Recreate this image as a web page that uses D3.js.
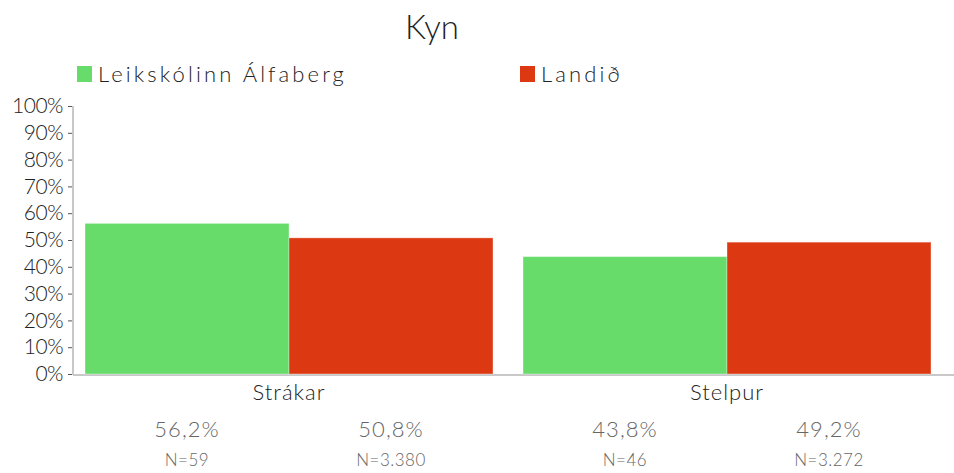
<!DOCTYPE html>
<html>
<head>
<meta charset="utf-8">
<script src="https://cdn.jsdelivr.net/npm/d3@7"></script>
<style>
  body { margin: 0; background: #fff; }
  svg { font-family: Lato, "Open Sans", sans-serif; font-weight: 300; }
</style>
</head>
<body>
<div id="chart"></div>
<script>
(function () {
  'use strict';

  // data
  var categories = ['Strákar', 'Stelpur'];
  var seriesNames = ['Leikskólinn Álfaberg', 'Landið'];
  var schoolValues = [56.2, 43.8];
  var nationValues = [50.8, 49.2];
  var schoolN = ['59', '46'];
  var nationN = ['3.380', '3.272'];
  var yTicks = [0, 10, 20, 30, 40, 50, 60, 70, 80, 90, 100];

  const WIDTH = 954;
  const HEIGHT = 473;
  const COLORS = ['#67dc6a', '#dc3913'];
  const margin = { top: 106, right: 10, bottom: 98, left: 73 };

  var plotH = HEIGHT - margin.top - margin.bottom;

  var rows = categories.map(function (c, i) {
    return {
      cat: c,
      values: [
        { key: seriesNames[0], v: schoolValues[i], n: schoolN[i] },
        { key: seriesNames[1], v: nationValues[i], n: nationN[i] }
      ]
    };
  });

  var svg = d3.select('#chart').append('svg')
    .attr('width', WIDTH)
    .attr('height', HEIGHT);

  svg.append('text')
    .attr('x', 432)
    .attr('y', 39)
    .attr('text-anchor', 'middle')
    .style('font-size', '33px')
    .style('fill', '#222')
    .text('Kyn');

  // legend
  var legendX = [77, 520];
  seriesNames.forEach(function (name, i) {
    svg.append('rect')
      .attr('x', legendX[i])
      .attr('y', 66)
      .attr('width', 15)
      .attr('height', 16)
      .style('fill', COLORS[i]);
    svg.append('text')
      .attr('x', legendX[i] + 21)
      .attr('y', 82)
      .style('font-size', '22px')
      .style('letter-spacing', '3.1px')
      .style('fill', '#222')
      .text(name);
  });

  var g = svg.append('g')
    .attr('transform', 'translate(' + margin.left + ',' + margin.top + ')');

  var x0 = d3.scaleBand()
    .domain(categories)
    .range([12, 858])
    .paddingInner(0.0685)
    .paddingOuter(0);

  var x1 = d3.scaleBand()
    .domain(seriesNames)
    .range([0, x0.bandwidth()]);

  var y = d3.scaleLinear()
    .domain([0, 100])
    .range([plotH - 1, 0]);

  // y axis
  var yAxis = g.append('g')
    .call(d3.axisLeft(y).tickValues(yTicks).tickSize(5)
      .tickFormat(function (d) { return d + '%'; }));
  yAxis.select('.domain').remove();
  yAxis.selectAll('.tick line').style('stroke', '#555');
  yAxis.selectAll('.tick text')
    .attr('x', -10)
    .style('font-size', '21px')
    .style('font-family', 'Lato, sans-serif')
    .style('font-weight', 300)
    .style('letter-spacing', '-0.5px')
    .style('fill', '#222');

  g.append('line')
    .attr('x1', 0).attr('x2', 0)
    .attr('y1', 0).attr('y2', plotH)
    .style('stroke', '#c8c8c8')
    .style('stroke-width', 2);

  g.append('line')
    .attr('x1', 0).attr('x2', WIDTH - margin.left)
    .attr('y1', plotH).attr('y2', plotH)
    .style('stroke', '#c8c8c8')
    .style('stroke-width', 2);

  // bars
  var groups = g.selectAll('.group')
    .data(rows)
    .enter().append('g')
    .attr('class', 'group')
    .attr('transform', function (d) { return 'translate(' + x0(d.cat) + ',0)'; });

  groups.selectAll('rect')
    .data(function (d) { return d.values; })
    .enter().append('rect')
    .attr('x', function (d) { return x1(d.key); })
    .attr('width', x1.bandwidth())
    .attr('y', function (d) { return y(d.v); })
    .attr('height', function (d) { return y(0) - y(d.v); })
    .style('fill', function (d, i) { return COLORS[i]; })
    .style('stroke', 'rgba(255,255,255,0.35)')
    .style('stroke-width', 1);

  // category labels
  groups.append('text')
    .attr('x', x0.bandwidth() / 2)
    .attr('y', plotH + 25)
    .attr('text-anchor', 'middle')
    .style('font-size', '22px')
    .style('letter-spacing', '1px')
    .style('fill', '#222')
    .text(function (d) { return d.cat; });

  // value labels
  groups.selectAll('.pct')
    .data(function (d) { return d.values; })
    .enter().append('text')
    .attr('class', 'pct')
    .attr('x', function (d) { return x1(d.key) + x1.bandwidth() / 2; })
    .attr('y', plotH + 62)
    .attr('text-anchor', 'middle')
    .style('font-size', '22px')
    .style('letter-spacing', '1px')
    .style('fill', '#666')
    .text(function (d) { return d3.format('.1f')(d.v).replace('.', ',') + '%'; });

  groups.selectAll('.num')
    .data(function (d) { return d.values; })
    .enter().append('text')
    .attr('class', 'num')
    .attr('x', function (d) { return x1(d.key) + x1.bandwidth() / 2; })
    .attr('y', plotH + 91)
    .attr('text-anchor', 'middle')
    .style('font-size', '17px')
    .style('letter-spacing', '0.5px')
    .style('fill', '#666')
    .text(function (d) { return 'N=' + d.n; });
}());
</script>
</body>
</html>
